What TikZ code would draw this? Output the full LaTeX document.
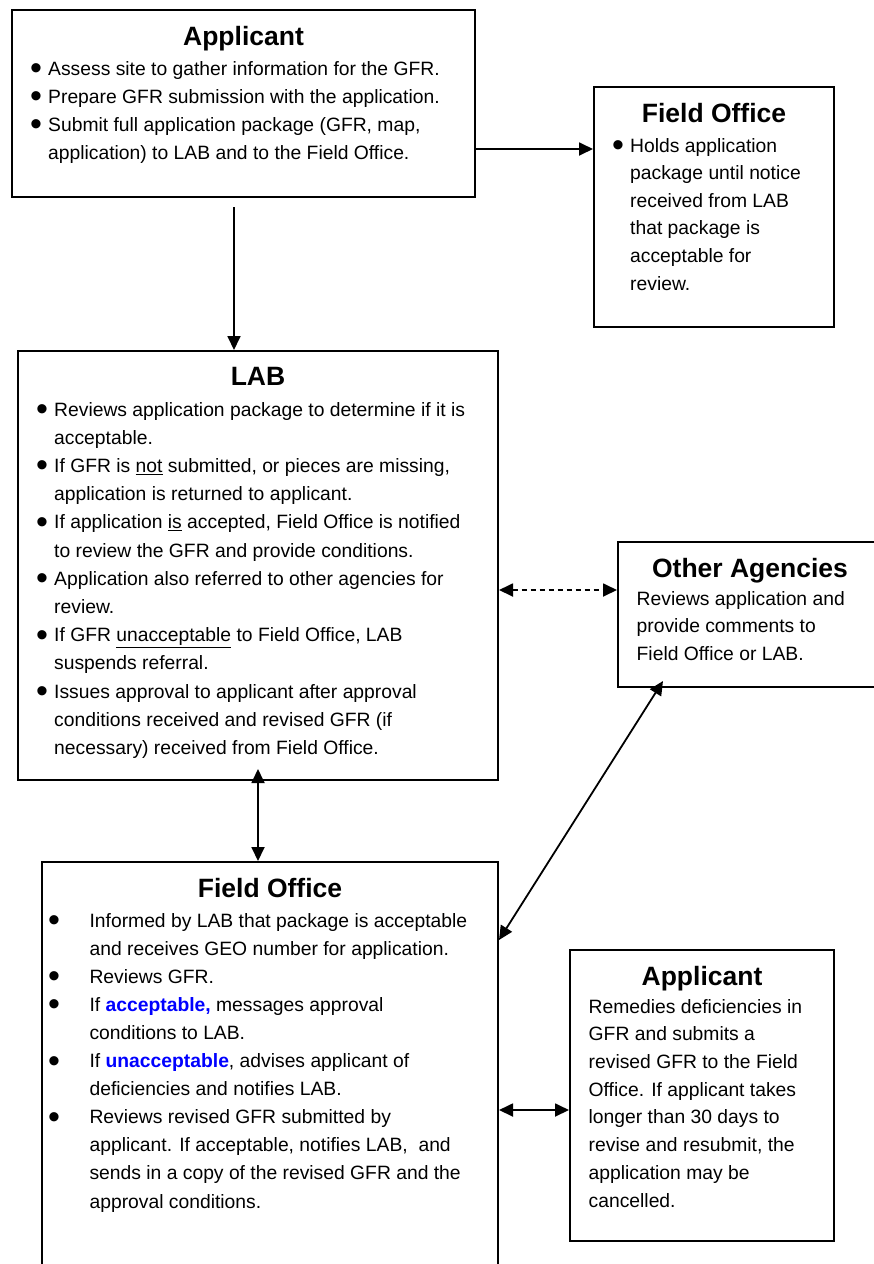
\documentclass[tikz,border=0pt]{standalone}
\usepackage{fontspec}
\setmainfont{Liberation Sans}
\usepackage{xcolor}
\usetikzlibrary{arrows.meta}
\tikzset{>={Triangle[length=14pt,width=13pt]}}
\tikzset{
    box/.style={draw, line width=2pt, inner sep=0pt},
    head/.style={anchor=base, inner sep=0pt, font=\fontsize{26.5}{30}\selectfont\bfseries},
    body/.style={anchor=base west, align=left, inner sep=0pt, font=\fontsize{19.3}{28}\selectfont},
    link/.style={line width=1.8pt},
}
\definecolor{okblue}{RGB}{0,0,255}
\newcommand{\bul}[1][18pt]{\makebox[#1][l]{\raisebox{-4.5pt}{\fontsize{34}{34}\selectfont\textbullet}}}
\newcommand{\ind}[1][18pt]{\hspace*{#1}}

\begin{document}
\begin{tikzpicture}[x=1pt, y=-1pt]
        \useasboundingbox (0,0) rectangle (874,1264);

        % applicant (top), text placed by its last line
        \node[box, minimum width=463pt, minimum height=187pt] (applicant) at (243.5,103.5) {};
        \node[head] (applicanthead) at (243.5,45) {Applicant};
        \node[body] (applicanttext) at (30,159) {%
            \bul Assess site to gather information for the GFR.\\
            \bul Prepare GFR submission with the application.\\
            \bul Submit full application package (GFR, map,\\
            \ind application) to LAB and to the Field Office.};

        % field office (top)
        \node[box, minimum width=240pt, minimum height=240pt] (fieldtop) at (714,207) {};
        \node[head] (fieldtophead) at (714,122) {Field Office};
        \node[body, font=\fontsize{19.3}{27.6}\selectfont] (fieldtoptext) at (612,290) {%
            \bul Holds application\\
            \ind package until notice\\
            \ind received from LAB\\
            \ind that package is\\
            \ind acceptable for\\
            \ind review.};

        % lab
        \node[box, minimum width=480pt, minimum height=429pt] (lab) at (258,565.5) {};
        \node[head] (labhead) at (258,385) {LAB};
        \node[body, font=\fontsize{19.3}{28.2}\selectfont] (labtext) at (36,754.4) {%
            \bul Reviews application package to determine if it is\\
            \ind acceptable.\\
            \bul If GFR is \underline{not} submitted, or pieces are missing,\\
            \ind application is returned to applicant.\\
            \bul If application \underline{is} accepted, Field Office is notified\\
            \ind to review the GFR and provide conditions.\\
            \bul Application also referred to other agencies for\\
            \ind review.\\
            \bul If GFR \underline{unacceptable} to Field Office, LAB\\
            \ind suspends referral.\\
            \bul Issues approval to applicant after approval\\
            \ind conditions received and revised GFR (if\\
            \ind necessary) received from Field Office.};

        % other agencies
        \node[box, minimum width=264pt, minimum height=145pt] (other) at (750,614.5) {};
        \node[head] (otherhead) at (750,577) {Other Agencies};
        \node[body, font=\fontsize{19.3}{27.5}\selectfont] (othertext) at (636.5,660) {%
            Reviews application and\\
            provide comments to\\
            Field Office or LAB.};

        % field office (bottom)
        \node[box, minimum width=456pt, minimum height=410pt] (fieldbot) at (270,1067) {};
        \node[head] (fieldbothead) at (270,897) {Field Office};
        \node[body, font=\fontsize{19.3}{28.1}\selectfont] (fieldbottext) at (48,1208) {%
            \bul[36pt] Informed by LAB that package is acceptable\\
            \ind[36pt] and receives GEO number for application.\\
            \bul[36pt] Reviews GFR.\\
            \bul[36pt] If \textcolor{okblue}{\bfseries acceptable,} messages approval\\
            \ind[36pt] conditions to LAB.\\
            \bul[36pt] If \textcolor{okblue}{\bfseries unacceptable}, advises applicant of\\
            \ind[36pt] deficiencies and notifies LAB.\\
            \bul[36pt] Reviews revised GFR submitted by\\
            \ind[36pt] applicant. If acceptable, notifies LAB,\ \ and\\
            \ind[36pt] sends in a copy of the revised GFR and the\\
            \ind[36pt] approval conditions.};

        % applicant (bottom)
        \node[box, minimum width=264pt, minimum height=291pt] (appbot) at (702,1095.5) {};
        \node[head] (appbothead) at (702,985) {Applicant};
        \node[body, font=\fontsize{19.3}{27.7}\selectfont] (appbottext) at (588.5,1207) {%
            Remedies deficiencies in\\
            GFR and submits a\\
            revised GFR to the Field\\
            Office. If applicant takes\\
            longer than 30 days to\\
            revise and resubmit, the\\
            application may be\\
            cancelled.};

        % connectors
        \coordinate (down) at (234,207);
        \draw[link, ->] ([yshift=-45.5pt]applicant.east) -- ([yshift=-45.5pt]applicant.east -| fieldtop.west);
        \draw[link, ->] (down) -- (down |- lab.north);
        \draw[link, <->, dash pattern=on 5pt off 4pt] ([yshift=-24.5pt]lab.east) -- ([yshift=-24.5pt]lab.east -| other.west);
        \draw[link, <->] ([yshift=12pt]lab.south) -- (lab.south |- fieldbot.north);
        \draw[link, <->] ([shift={(-87pt,7pt)}]other.south) -- ([yshift=127pt]fieldbot.east);
        \draw[link, <->] ([yshift=-43pt]fieldbot.east) -- ([yshift=-43pt]fieldbot.east -| appbot.west);
    \end{tikzpicture}
\end{document}
